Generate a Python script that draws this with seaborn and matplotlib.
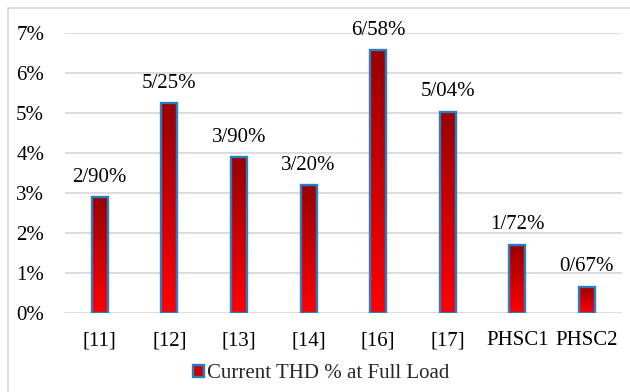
import matplotlib
matplotlib.use("Agg")
import matplotlib.pyplot as plt
import seaborn as sns
import numpy as np
import pandas as pd
from matplotlib.patches import Rectangle, Patch
from matplotlib.colors import LinearSegmentedColormap

categories = ["[11]", "[12]", "[13]", "[14]", "[16]", "[17]", "PHSC1", "PHSC2"]
values = [2.90, 5.25, 3.90, 3.20, 6.58, 5.04, 1.72, 0.67]
value_labels = ["2/90%", "5/25%", "3/90%", "3/20%", "6/58%", "5/04%", "1/72%", "0/67%"]
y_ticks = [0, 1, 2, 3, 4, 5, 6, 7]
y_tick_labels = ["0%", "1%", "2%", "3%", "4%", "5%", "6%", "7%"]
series_name = "Current THD % at Full Load"

sns.set_theme(style="white")
plt.rcParams['font.family'] = ['Liberation Serif', 'DejaVu Serif']

W, H = 630, 392
FS = 15
fig = plt.figure(figsize=(W / 100, H / 100), dpi=100)
fig.patch.set_facecolor("white")
ax = fig.add_axes([65 / W, 1 - 313.3 / H, (621.7 - 65) / W, (313.3 - 33.3) / H])
ax.set_facecolor("none")

df = pd.DataFrame({"cat": categories, "val": values})
sns.barplot(data=df, x="cat", y="val", ax=ax, width=0.23, color="#D00000",
            edgecolor="#2A7DC4", linewidth=1.7, saturation=1, zorder=4)

cmap = LinearSegmentedColormap.from_list("grad", ["#FF0000", "#990000"])
grad = np.linspace(0, 1, 256).reshape(-1, 1)
for p in ax.patches:
    x, y = p.get_x(), p.get_y()
    w, h = p.get_width(), p.get_height()
    im = ax.imshow(grad, cmap=cmap, extent=[x, x + w, y, y + h], origin="lower",
                   aspect="auto", zorder=3.5, interpolation="bilinear")
    im.set_clip_path(p)
    p.set_facecolor("none")

ax.set_xlim(-0.5, len(categories) - 0.5)
ax.set_ylim(0, 7)
ax.set_yticks(y_ticks)
ax.set_yticklabels(y_tick_labels)
ax.set_xlabel("")
ax.set_ylabel("")
ax.tick_params(axis="y", length=0, pad=15, labelsize=FS, labelcolor="black")
ax.tick_params(axis="x", length=0, pad=13, labelsize=FS, labelcolor="black")
ax.yaxis.grid(True, color="#D9D9D9", linewidth=1.3, zorder=0)
ax.set_axisbelow(True)
for s in ax.spines.values():
    s.set_visible(False)

for i, (v, lab) in enumerate(zip(values, value_labels)):
    ax.text(i, v + 0.38, lab, ha="center", va="baseline", fontsize=FS,
            color="black", clip_on=False)

handle = Patch(facecolor="#C80000", edgecolor="#2A7DC4", linewidth=1.7)
fig.legend(handles=[handle], labels=[series_name], loc="center",
           bbox_to_anchor=(321 / W, 1 - 374 / H), frameon=False, fontsize=FS,
           handlelength=0.55, handleheight=0.55, handletextpad=0.15,
           borderpad=0, borderaxespad=0)

fig.add_artist(Rectangle((8 / W, -0.1), 1.0, 1.1 - 8 / H, transform=fig.transFigure,
                         fill=False, edgecolor="#D9D9D9", linewidth=1.3))

fig.savefig("out.png", dpi=100)
